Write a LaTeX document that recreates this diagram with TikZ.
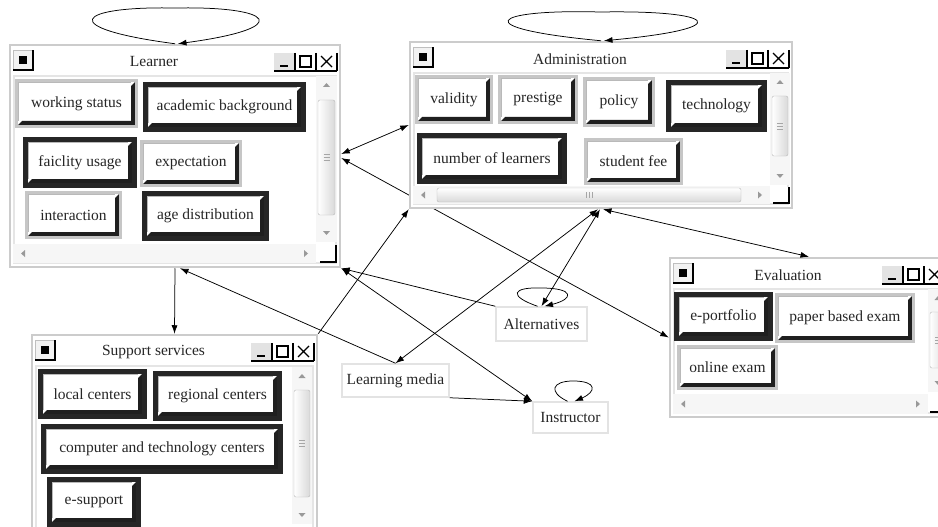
\documentclass[tikz,border=0pt]{standalone}
\usepackage{fontspec}
\setmainfont{Liberation Serif}
\usetikzlibrary{arrows.meta,calc}
\pgfdeclarelayer{paper}
\pgfdeclarelayer{edges}
\pgfsetlayers{paper,edges,main}

\newcommand\wfont{\fontsize{15.5}{17}\selectfont}

\newcommand\bevel[1]{%
  \fill[black!88] let \p1=(path picture bounding box.south west), \p2=(path picture bounding box.north east) in
    (\x1+#1,\y1+#1) -- (\x2-#1,\y1+#1) -- (\x2-#1,\y2-#1) -- (\x2-#1-4pt,\y2-#1-4pt) -- (\x2-#1-4pt,\y1+#1+4pt) -- (\x1+#1+4pt,\y1+#1+4pt) -- cycle;
  \draw[gray!55, line width=1pt] let \p1=(path picture bounding box.south west), \p2=(path picture bounding box.north east) in
    (\x1+#1+0.5pt,\y1+#1+4pt) -- (\x1+#1+0.5pt,\y2-#1-0.5pt) -- (\x2-#1-4pt,\y2-#1-0.5pt);
}

\tikzset{
  btnbase/.style={rectangle, fill=white, inner sep=0pt, font=\wfont, text=black!85},
  btnlight/.style={btnbase, draw=gray!45, line width=3pt, path picture={\bevel{1.5pt}}},
  btndark/.style={btnbase, draw=black!85, line width=5pt, path picture={\bevel{2.5pt}}},
  winframe/.style={rectangle, draw=gray!40, line width=2.5pt, fill=white, inner sep=0pt},
  wicon/.style={rectangle, draw=gray!50, fill=gray!10, line width=1pt, minimum size=19pt, inner sep=0pt},
  plain/.style={rectangle, draw=gray!22, line width=1.5pt, fill=white, inner sep=0pt, font=\wfont, text=black!85},
  arr/.style={-{Latex[length=8.5pt,width=6pt]}, line width=0.75pt},
  darr/.style={{Latex[length=8.5pt,width=6pt]}-{Latex[length=8.5pt,width=6pt]}, line width=0.75pt}
}

\newcommand\btnL[6]{\node[btnlight, minimum width={(#4-#2-3)*1pt}, minimum height={(#5-#3-3)*1pt}] (#1) at ({(#2+#4)/2},{(#3+#5)/2}) {#6};}
\newcommand\btnD[6]{\node[btndark, minimum width={(#4-#2-5)*1pt}, minimum height={(#5-#3-5)*1pt}] (#1) at ({(#2+#4)/2},{(#3+#5)/2}) {#6};}

\newcommand\winbox[6]{%
  \node[winframe, minimum width={(#4-#2)*1pt}, minimum height={(#5-#3)*1pt}] (#1) at ({(#2+#4)/2},{(#3+#5)/2}) {};
  \draw[gray!20, line width=2.5pt] ({#2+4},{#3+31}) rectangle ({#4-4},{#5-4});
  \node[font=\wfont, text=black!85] (#1-title) at ({(#2+#4)/2-21},{#3+17}) {#6};
  \node[wicon] (#1-icon) at ({#2+13},{#3+15}) {};
  \fill[black] ({#2+9},{#3+11}) rectangle ({#2+17},{#3+19});
  \draw[black, line width=1.4pt] ({#2+3},{#3+25}) -- ({#2+23},{#3+25}) -- ({#2+23},{#3+5});
  \fill[gray!22] ({#4-66},{#3+8}) rectangle ({#4-45},{#3+26});
  \draw[black, line width=1.6pt] ({#4-66},{#3+26}) -- ({#4-3},{#3+26});
  \draw[black, line width=1.3pt] ({#4-45},{#3+8}) -- ({#4-45},{#3+26}) ({#4-24},{#3+8}) -- ({#4-24},{#3+26}) ({#4-3},{#3+8}) -- ({#4-3},{#3+26});
  \draw[black, line width=1.8pt] ({#4-60},{#3+21}) -- ({#4-52},{#3+21});
  \draw[black, line width=1.2pt] ({#4-40},{#3+11}) rectangle ({#4-29},{#3+22});
  \draw[black, line width=1.2pt] ({#4-19},{#3+11}) -- ({#4-8},{#3+22}) ({#4-19},{#3+22}) -- ({#4-8},{#3+11});
}

\newcommand\vscroll[6]{%
  \fill[gray!7] (#1,#2) rectangle (#3,#4);
  \fill[gray!80] ({(#1+#3)/2-3.5},{#2+11}) -- ({(#1+#3)/2+3.5},{#2+11}) -- ({(#1+#3)/2},{#2+7}) -- cycle;
  \fill[gray!80] ({(#1+#3)/2-3.5},{#4-11}) -- ({(#1+#3)/2+3.5},{#4-11}) -- ({(#1+#3)/2},{#4-7}) -- cycle;
  \draw[gray!55, rounded corners=2pt, left color=white, right color=gray!30] ({#1+2},#5) rectangle ({#3-2},#6);
  \draw[gray!70, line width=0.8pt] \foreach \k in {-3,0,3} {({(#1+#3)/2-3},{(#5+#6)/2+\k}) -- ({(#1+#3)/2+3},{(#5+#6)/2+\k})};
}
\newcommand\hscroll[4]{%
  \fill[gray!7] (#1,#2) rectangle (#3,#4);
  \fill[gray!80] ({#1+8},{(#2+#4)/2}) -- ({#1+12},{(#2+#4)/2-3.5}) -- ({#1+12},{(#2+#4)/2+3.5}) -- cycle;
  \fill[gray!80] ({#3-8},{(#2+#4)/2}) -- ({#3-12},{(#2+#4)/2-3.5}) -- ({#3-12},{(#2+#4)/2+3.5}) -- cycle;
}
\newcommand\hthumb[4]{%
  \draw[gray!55, rounded corners=2pt, top color=white, bottom color=gray!30] (#1,#3) rectangle (#2,#4);
  \draw[gray!70, line width=0.8pt] \foreach \k in {-3,0,3} {({(#1+#2)/2+\k},{(#3+#4)/2-3}) -- ({(#1+#2)/2+\k},{(#3+#4)/2+3})};
}
\newcommand\cornerbox[4]{%
  \fill[white] (#1,#2) rectangle (#3,#4);
  \draw[black, line width=1.5pt] (#1,#4) -- (#3,#4) -- (#3,#2);
}

\begin{document}
\begin{tikzpicture}[x=1pt,y=-1pt]
\useasboundingbox (0,0) rectangle (938,527);
\begin{pgfonlayer}{paper}
\fill[white] (0,0) rectangle (938,527);
\end{pgfonlayer}

% ---------- Learner ----------
\winbox{learner}{10}{45}{340}{267}{Learner}
\vscroll{316}{76}{337}{242}{100}{215}
\hscroll{13}{244}{316}{263}
\cornerbox{320}{245}{336}{262}
\btnL{ws}{15}{79}{138}{128}{working status}
\btnD{ab}{143}{82}{306}{132}{academic background}
\btnD{fu}{23}{137}{137}{188}{faiclity usage}
\btnL{ex}{140}{140}{242}{187}{expectation}
\btnL{in}{25}{191}{122}{239}{interaction}
\btnD{ad}{142}{191}{269}{241}{age distribution}

% ---------- Administration ----------
\winbox{admin}{410}{42}{792}{208}{Administration}
\vscroll{770}{73}{790}{185}{96}{156}
\hscroll{413}{186}{770}{204}
\hthumb{437}{741}{188}{202}
\cornerbox{773}{187}{789}{203}
\btnL{va}{415}{75}{493}{124}{validity}
\btnL{pr}{498}{75}{578}{124}{prestige}
\btnL{po}{583}{77}{655}{127}{policy}
\btnD{te}{666}{80}{767}{132}{technology}
\btnD{nl}{417}{133}{567}{184}{number of learners}
\btnL{sf}{584}{138}{683}{185}{student fee}

% ---------- Evaluation ----------
\winbox{eval}{670}{258}{948}{417}{Evaluation}
\vscroll{928}{289}{948}{392}{312}{368}
\hscroll{673}{394}{928}{414}
\cornerbox{930}{395}{946}{412}
\btnD{ep}{674}{292}{773}{341}{e-portfolio}
\btnL{pb}{775}{293}{915}{343}{paper based exam}
\btnL{oe}{677}{345}{778}{390}{online exam}

% ---------- Support services ----------
\winbox{support}{32}{335}{317}{545}{Support services}
\vscroll{292}{367}{312}{524}{390}{497}
\btnD{lc}{38}{369}{147}{419}{local centers}
\btnD{rc}{153}{371}{282}{421}{regional centers}
\btnD{ct}{41}{424}{283}{474}{computer and technology centers}
\btnD{es}{47}{477}{141}{527}{e-support}

% ---------- plain nodes ----------
\node[plain, minimum width=91pt, minimum height=34pt] (alt) at (541.5,324) {Alternatives};
\node[plain, minimum width=107pt, minimum height=33pt] (lm) at (395.5,380.5) {Learning media};
\node[plain, minimum width=75pt, minimum height=31pt] (instr) at (570.5,417.5) {Instructor};

% ---------- connectors ----------
\begin{pgfonlayer}{edges}
\draw[darr] ([yshift=-2pt]learner.east) -- (eval.west);
\end{pgfonlayer}

\draw[arr] (learner.north) .. controls (55,28) and (75,6) .. (175,8) .. controls (275,6) and (295,28) .. ([xshift=3pt]learner.north);
\draw[arr] (admin.north) .. controls (465,28) and (490,9) .. (600,12) .. controls (715,10) and (740,28) .. ([xshift=3pt]admin.north);
\draw[arr] ([xshift=-4pt]alt.north) .. controls (508,296) and (512,287) .. (541,288) .. controls (575,288) and (574,299) .. ([xshift=3pt]alt.north);
\draw[arr] ([xshift=-3pt]instr.north) .. controls (548,392) and (552,381) .. (573,381) .. controls (598,381) and (596,392) .. ([xshift=4pt]instr.north);

\draw[arr] (learner.south) -- (support.north);
\draw[arr] (lm.north) -- ([xshift=5pt]learner.south);
\draw[darr] ([yshift=2pt]learner.east) -- (admin.west);
\draw[darr] (learner.south east) -- (instr.north west);
\draw[arr] (alt.north west) -- (learner.south east);
\draw[arr] (support.north east) -- (admin.south west);
\draw[darr] (lm.north) -- ([xshift=-3pt]admin.south);
\draw[darr] (alt.north) -- ([xshift=-1pt]admin.south);
\draw[darr] ([xshift=2pt]admin.south) -- (eval.north);
\draw[arr] (lm.south east) -- (instr.north west);
\end{tikzpicture}
\end{document}
